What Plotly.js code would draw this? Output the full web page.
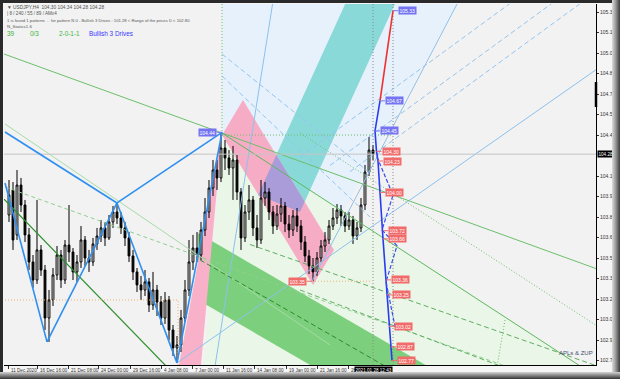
<!DOCTYPE html>
<html>
<head>
<meta charset="utf-8">
<script src="https://cdn.plot.ly/plotly-3.0.1.min.js"></script>
<style>
html,body{margin:0;padding:0;background:#f5f5f5;}
#wrap{position:relative;width:620px;height:379px;overflow:hidden;}
#chart{position:absolute;left:0;top:0;width:620px;height:379px;}
.edge{position:absolute;pointer-events:none;}
</style>
</head>
<body>
<div id="wrap">
  <div id="chart"></div>
  <div class="edge" style="left:0;top:0;width:620px;height:3px;background:#2a2a2a"></div>
  <div class="edge" style="left:0;top:0;width:3px;height:379px;background:#2a2a2a"></div>
  <div class="edge" style="left:612px;top:0;width:8px;height:379px;background:linear-gradient(to right,#dcdcdc,#9a9a9a 45%,#3c3c3c)"></div>
  <div class="edge" style="left:0;top:372px;width:620px;height:7px;background:linear-gradient(to bottom,#d4d4d4,#8c8c8c 45%,#333)"></div>
</div>
<script>
// USDJPY H4 candles (one slot per x unit)
const open = [103.835,104.018,103.689,104.054,103.908,103.689,103.491,103.359,103.579,103.432,
103.081,103.213,103.396,103.542,103.359,103.615,103.564,103.418,103.491,103.652,
103.520,103.491,103.623,103.681,103.740,103.667,103.784,103.857,103.813,103.740,
103.667,103.535,103.418,103.323,103.286,103.345,103.176,103.286,103.198,103.081,
103.213,102.993,102.862,102.884,103.081,103.286,103.491,103.593,103.542,103.725,
103.857,104.032,104.164,104.106,104.325,104.252,104.179,104.237,104.003,103.667,
103.857,103.945,103.740,103.652,103.959,104.003,103.857,103.754,103.842,103.901,
103.769,103.725,103.828,103.754,103.637,103.535,103.462,103.418,103.520,103.608,
103.652,103.754,103.813,103.871,103.828,103.754,103.798,103.681,103.740,103.908,
104.149,104.310];
const high = [104.091,104.076,104.164,104.106,103.945,103.740,103.542,103.945,103.615,103.469,
103.286,103.447,103.608,103.579,103.652,103.908,103.593,103.542,103.754,103.681,
103.579,103.667,103.740,103.798,103.784,103.835,103.901,103.923,103.857,103.784,
103.710,103.579,103.447,103.389,103.432,103.374,103.418,103.323,103.242,103.271,
103.242,103.030,102.949,103.140,103.359,103.652,103.689,103.710,103.784,103.959,
104.091,104.237,104.237,104.440,104.384,104.310,104.340,104.274,104.032,103.908,
104.054,103.974,103.835,104.091,104.076,104.032,103.901,103.908,103.959,103.930,
103.835,103.871,103.886,103.798,103.681,103.579,103.520,103.564,103.652,103.710,
103.798,103.886,103.915,103.908,103.857,103.857,103.828,103.784,103.959,104.201,
104.406,104.347];
const low = [103.784,103.579,103.652,103.857,103.637,103.432,103.301,103.330,103.389,102.993,
102.906,103.169,103.359,103.301,103.330,103.491,103.359,103.345,103.447,103.462,
103.418,103.462,103.579,103.637,103.608,103.652,103.740,103.769,103.696,103.608,
103.491,103.359,103.271,103.213,103.242,103.125,103.140,103.096,103.030,103.037,
102.920,102.803,102.752,102.832,103.052,103.242,103.432,103.491,103.506,103.681,
103.813,103.974,104.018,104.076,104.164,104.128,103.945,103.945,103.579,103.637,
103.798,103.681,103.593,103.623,103.901,103.798,103.696,103.725,103.784,103.710,
103.667,103.681,103.710,103.579,103.491,103.403,103.350,103.389,103.491,103.564,
103.623,103.725,103.769,103.754,103.710,103.725,103.623,103.652,103.710,103.871,
104.120,104.237];
const close = [103.981,103.652,104.054,103.908,103.689,103.491,103.359,103.579,103.432,103.081,
103.213,103.396,103.542,103.359,103.615,103.564,103.418,103.491,103.652,103.520,
103.491,103.623,103.681,103.740,103.667,103.784,103.857,103.813,103.740,103.667,
103.535,103.418,103.323,103.286,103.345,103.176,103.286,103.198,103.081,103.213,
102.993,102.862,102.884,103.081,103.286,103.491,103.593,103.542,103.725,103.857,
104.032,104.164,104.106,104.325,104.252,104.179,104.237,104.003,103.667,103.857,
103.945,103.740,103.652,103.959,104.003,103.857,103.754,103.842,103.901,103.769,
103.725,103.828,103.754,103.637,103.535,103.462,103.418,103.520,103.608,103.652,
103.754,103.813,103.871,103.828,103.754,103.798,103.681,103.740,103.908,104.149,
104.310,104.281];
const barX = open.map((_, i) => i + 1);

const bid = 104.28;
const lastTime = '2021.01.28 12:43';
const lastBarX = 92;

// price scale labels
const priceTicks = [105.32,105.17,105.02,104.87,104.72,104.57,104.42,104.12,103.97,103.82,103.67,103.52,103.37,103.22,103.07,102.92,102.77];
// time scale labels
const timeTickX = [0.75,8,15.75,23.25,31.25,39,46.75,54.5,62.25,70.25,78,85.75];
const timeTickText = ['11 Dec 2020','16 Dec 16:00','21 Dec 08:00','24 Dec 00:00','29 Dec 16:00','4 Jan 08:00','7 Jan 00:00','11 Jan 16:00','14 Jan 08:00','19 Jan 00:00','21 Jan 16:00','26'];

// ZUP pivots: start, upper start, A, B, C, D, E
const pivotX = [0, 0, 10.5, 28, 43, 54.25, 76.75];
const pivotY = [104.069, 104.442, 102.906, 103.923, 102.752, 104.44, 103.35];
const patternLegs = [[0,2],[2,3],[1,3],[3,5],[3,4],[4,5]];

// projected levels of the pattern
const projX = [93.75,92.5,92.875,93.25,93.75,94.5,94.5,95.25,95.5,96,96.5,96.75];
const projY = [104.67,104.45,104.30,104.23,104.00,103.72,103.66,103.36,103.25,103.02,102.87,102.77];
const projKind = ['b','b','r','r','r','r','r','r','r','r','r','r'];
const targetX = [93.75, 97];
const targetY = [104.67, 105.33];
const zigDashX = [93, 97, 94.25, 98, 95.25, 97.5];
const zigDashY = [104.26, 103.98, 103.725, 103.61, 103.345, 103.02];

// filled areas
const paleBlueX = [54.25, 54.25, 114.2, 81.25];
const paleBlueY = [104.435, 105.445, 105.445, 103.681];
const paleGreenX = [54.25, 153.75, 153.75, 49];
const paleGreenY = [104.435, 102.54, 102.45, 102.45];
const greenBandX = [48.25, 110.75, 110.75, 48.25];
const greenBandY = [103.703, 102.642, 102.152, 103.213];
const pinkWedgeX = [54.25, 42.8, 48.65];
const pinkWedgeY = [104.435, 102.628, 102.628];
const pinkBandX = [54.25, 59.5, 82.25, 77];
const pinkBandY = [104.42, 104.676, 103.579, 103.323];
const tealBandX = [63.25, 88, 98.5, 73.75];
const tealBandY = [103.981, 105.569, 105.445, 103.857];

// fan / channel lines
const fanSolidX = [[43,148],[76.75,114.2],[51.75,67.25]];
const fanSolidY = [[102.752,104.903],[103.35,105.445],[102.59,105.445]];
const fanDashX = [[73.75,129.15],[81.25,139.6],[86.25,146.75],[54.25,91.25],[54.25,91.25]];
const fanDashY = [[104.259,105.445],[104.198,105.445],[104.152,105.445],[104.852,103.82],[105.013,104.142]];

const greenLines = [
  {x:[-0.5,40.75], y:[103.959,102.715], c:'#2f8f2f', w:1.2, d:'solid'},
  {x:[0,148], y:[104.04,102.489], c:'#8fcf8f', w:1, d:'4px,3px'},
  {x:[0,81.25], y:[104.501,102.884], c:'#a6dba6', w:1, d:'solid'},
  {x:[-0.25,148], y:[105.013,103.44], c:'#6cbf6c', w:1, d:'solid'},
  {x:[54.25,153.75], y:[104.435,102.54], c:'#5cb85c', w:1, d:'solid'},
  {x:[73.75,148], y:[104.435,103.023], c:'#6cbf6c', w:1, d:'1px,2px'},
  {x:[61.25,148], y:[103.619,102.73], c:'#5fae5f', w:1, d:'5px,3px'},
  {x:[73.75,123.75], y:[103.286,102.73], c:'#5fae5f', w:1, d:'5px,3px'},
  {x:[48.75,106.25], y:[103.506,102.54], c:'#2e8b2e', w:1, d:'5px,3px'},
  {x:[125,123], y:[103.066,102.722], c:'#6cbf6c', w:1, d:'1px,2px'},
  {x:[54.25,54.25], y:[105.379,104.435], c:'#6cbf6c', w:1, d:'1px,2px'},
  {x:[54.25,97], y:[104.42,104.42], c:'#6cbf6c', w:1, d:'1px,2px'}
];
const orangeX = [[0,43.25,43.25],[76.75,91.75]];
const orangeY = [[103.213,103.213,102.737],[103.35,103.35]];

const XR = [-0.25, 147.75];
const YR = [102.737, 105.379];
const FONT = 'Liberation Sans, Arial, sans-serif';

// filled regions sit under the candles as data-referenced path shapes
const shapes = [];
function area(xs, ys, color) {
  const d = xs.map((x, i) => (i ? 'L' : 'M') + x + ',' + ys[i]).join(' ') + ' Z';
  shapes.push({type:'path', xref:'x', yref:'y', path:d, fillcolor:color, line:{width:0}, layer:'below'});
}
function line(xs, ys, color, width, dash) {
  return {type:'scatter', mode:'lines', x:xs, y:ys,
          line:{color:color, width:width, dash:dash || 'solid'}, hoverinfo:'skip', showlegend:false};
}
// convex polygon intersection (Sutherland-Hodgman)
function clipConvex(sx, sy, cx, cy) {
  let pts = sx.map((x, i) => [x, sy[i]]);
  const clip = cx.map((x, i) => [x, cy[i]]);
  let s = 0;
  for (let i = 0; i < clip.length; i++) {
    const a = clip[i], b = clip[(i + 1) % clip.length];
    s += a[0] * b[1] - b[0] * a[1];
  }
  const sgn = s > 0 ? 1 : -1;
  for (let i = 0; i < clip.length; i++) {
    const a = clip[i], b = clip[(i + 1) % clip.length];
    const side = p => sgn * ((b[0] - a[0]) * (p[1] - a[1]) - (b[1] - a[1]) * (p[0] - a[0]));
    const inp = pts; pts = [];
    for (let j = 0; j < inp.length; j++) {
      const p = inp[j], q = inp[(j + 1) % inp.length];
      const sp = side(p), sq = side(q);
      if (sp >= 0) pts.push(p);
      if ((sp >= 0) !== (sq >= 0)) {
        const t = sp / (sp - sq);
        pts.push([p[0] + (q[0] - p[0]) * t, p[1] + (q[1] - p[1]) * t]);
      }
    }
  }
  return [pts.map(p => p[0]), pts.map(p => p[1])];
}

area(paleBlueX, paleBlueY, '#e6f1fb');
area(paleGreenX, paleGreenY, '#eaf6e8');
area(greenBandX, greenBandY, '#7ccf7c');
area(pinkWedgeX, pinkWedgeY, '#f8b1c8');
area(tealBandX, tealBandY, '#8ad9d9');
area(pinkBandX, pinkBandY, '#f7acc5');
const ov = clipConvex(tealBandX, tealBandY, pinkBandX, pinkBandY);
area(ov[0], ov[1], '#aa9bd9');
// scroll marker on the price scale
shapes.push({type:'line', xref:'paper', yref:'y', x0:1, x1:1, y0:104.808, y1:104.625, line:{color:'#000', width:2.5}});

const traces = [];
fanSolidX.forEach((xs, i) => traces.push(line(xs, fanSolidY[i], '#8cc1ee', 1)));
fanDashX.forEach((xs, i) => traces.push(line(xs, fanDashY[i], '#93c5ef', 1, '5px,3px')));
greenLines.forEach(g => traces.push(line(g.x, g.y, g.c, g.w, g.d)));
orangeX.forEach((xs, i) => traces.push(line(xs, orangeY[i], '#f2b26b', 1, '1px,2px')));
traces.push(line(XR, [bid, bid], '#c4c4c4', 1));
traces.push(line([lastBarX, lastBarX], YR, '#8a8a8a', 1, '1px,2px'));
traces.push(line([97, 97], YR, '#8a8a8a', 1, '1px,2px'));

traces.push({
  type:'candlestick', x:barX, open:open, high:high, low:low, close:close,
  increasing:{line:{color:'#000', width:1}, fillcolor:'#ffffff'},
  decreasing:{line:{color:'#000', width:1}, fillcolor:'#000000'},
  whiskerwidth:0, hoverinfo:'none', showlegend:false
});

patternLegs.forEach(([a, b]) => traces.push(line([pivotX[a], pivotX[b]], [pivotY[a], pivotY[b]], '#2e8ff0', 1.6)));
traces.push(line(targetX, targetY, '#f03030', 1.6));
traces.push(line(projX, projY, '#2a3cf0', 1.6));
traces.push(line(zigDashX, zigDashY, '#3a4cf0', 1.2, '4px,2px'));

const annotations = [];
function tag(x, y, color, dir) {
  annotations.push({x:x, y:y, xref:'x', yref:'y', text:y.toFixed(2), showarrow:true, arrowhead:0,
    arrowwidth:1, arrowcolor:color, ax:dir * 5, ay:0, xanchor:dir > 0 ? 'left' : 'right',
    bgcolor:color, borderpad:0.5, font:{family:FONT, size:5, color:'#ffffff'}});
}
tag(targetX[1], targetY[1], '#7474f2', 1);
projX.forEach((x, i) => tag(x, projY[i], projKind[i] === 'b' ? '#7474f2' : '#f26b6b', 1));
tag(pivotX[5], pivotY[5], '#7474f2', -1);
tag(pivotX[6], pivotY[6], '#f26b6b', -1);

timeTickX.forEach((x, i) => annotations.push({x:x, y:0, xref:'x', yref:'paper', text:timeTickText[i],
  showarrow:false, xanchor:'left', yanchor:'top', xshift:1, yshift:-1,
  font:{family:FONT, size:4.6, color:'#333'}}));
annotations.push({x:lastBarX, y:0, xref:'x', yref:'paper', text:lastTime, showarrow:false,
  xanchor:'center', yanchor:'top', yshift:-1, bgcolor:'#000', borderpad:0.5,
  font:{family:FONT, size:4.6, color:'#fff'}});
annotations.push({x:1, y:bid, xref:'paper', yref:'y', text:bid.toFixed(2), showarrow:false,
  xanchor:'left', xshift:1, bgcolor:'#000', borderpad:0.5, font:{family:FONT, size:4.6, color:'#fff'}});

// header lines
const header = [
  {t:'\u25BC USDJPY,H4  104.30 104.34 104.28 104.28', x:0.002, y:0.9915, s:4.8, c:'#555'},
  {t:'| 8 / 240 / 55 / 89 / AMx4', x:0.002, y:0.9725, s:4.6, c:'#555'},
  {t:'1 is found 1 patterns  -  for pattern N 0 - Bullish 3 Drives : 101.28 < Range of the prices D < 102.80', x:0.002, y:0.9555, s:4.2, c:'#555'},
  {t:'N_Statics1.6', x:0.002, y:0.939, s:4.4, c:'#555'}
];
header.forEach(h => annotations.push({x:h.x, y:h.y, xref:'paper', yref:'paper', text:h.t, showarrow:false,
  xanchor:'left', yanchor:'middle', font:{family:FONT, size:h.s, color:h.c}}));
const stats = [['39',0.0017,'#3db53d'],['0/3',0.0405,'#3db53d'],['2-0-1-1',0.0895,'#3db53d'],['Bullish 3 Drives',0.140,'#3a3aff']];
stats.forEach(s => annotations.push({x:s[1], y:0.9195, xref:'paper', yref:'paper', text:s[0], showarrow:false,
  xanchor:'left', yanchor:'middle', font:{family:FONT, size:6.4, color:s[2]}}));
annotations.push({x:0.999, y:0.033, xref:'paper', yref:'paper', text:'APLs & ZUP', showarrow:false,
  xanchor:'right', yanchor:'middle', font:{family:FONT, size:6, color:'#3d4f6e'}});

const layout = {
  width:620, height:379,
  margin:{l:4, r:24, t:4, b:14, pad:0},
  paper_bgcolor:'#f5f5f5', plot_bgcolor:'#f2f2f2',
  showlegend:false, hovermode:false, boxgap:0.35,
  xaxis:{type:'linear', range:XR, showgrid:false, zeroline:false, showticklabels:false,
         tickvals:timeTickX, ticks:'outside', ticklen:3, tickcolor:'#333', tickwidth:1,
         showline:true, linecolor:'#000', linewidth:1, rangeslider:{visible:false}, fixedrange:true},
  yaxis:{side:'right', range:YR, showgrid:false, zeroline:false, tickvals:priceTicks,
         ticktext:priceTicks.map(v => v.toFixed(2)), ticks:'outside', ticklen:2, tickcolor:'#333',
         tickfont:{family:FONT, size:5, color:'#333'}, showline:true, linecolor:'#000', linewidth:1, fixedrange:true},
  shapes:shapes,
  annotations:annotations
};

Plotly.newPlot('chart', traces, layout, {displayModeBar:false, staticPlot:true});
</script>
</body>
</html>
